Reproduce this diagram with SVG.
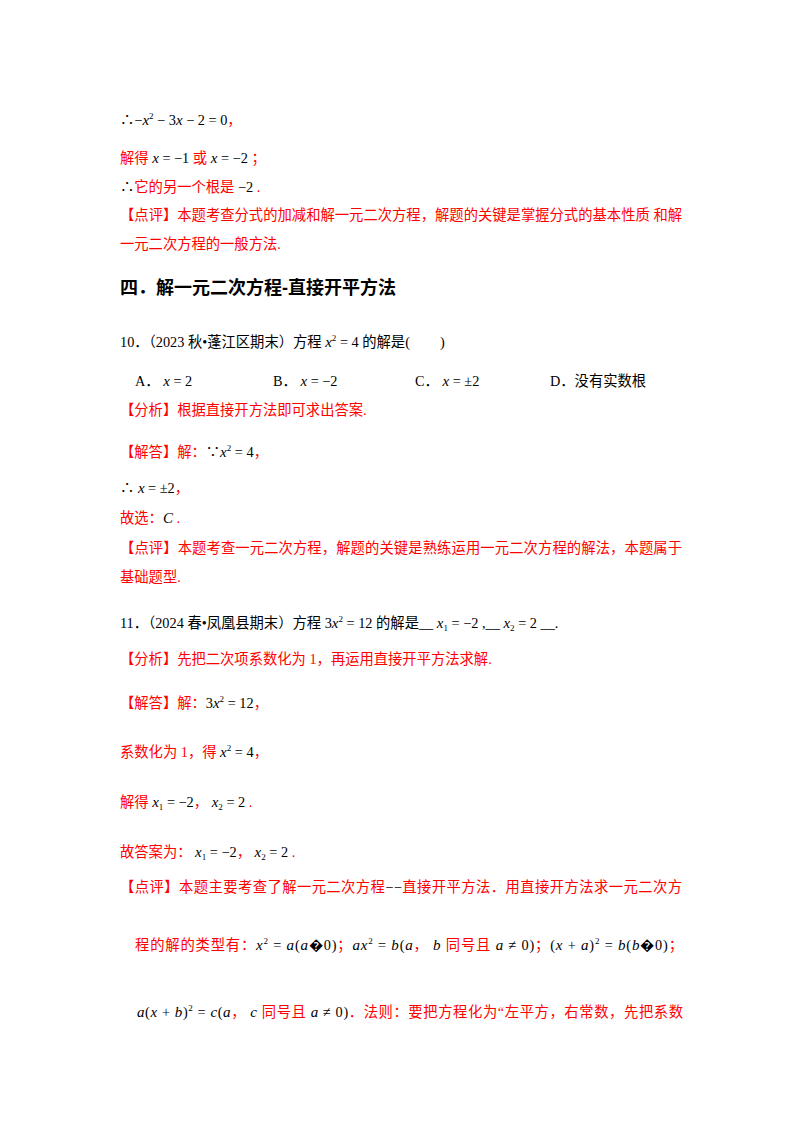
<svg xmlns="http://www.w3.org/2000/svg" width="800" height="1132" viewBox="0 0 800 1132">
<style>
text{font-family:"Liberation Serif","Noto Sans CJK SC",serif;font-size:14.3px;fill:#000}
.r{fill:#ff0000}
.m{font-family:"Liberation Serif",serif;font-style:italic;font-size:15px}
.n{font-family:"Liberation Serif",serif;font-style:normal}
.s{font-size:9px}
.h{font-family:"Liberation Sans","Noto Sans CJK SC",sans-serif;font-size:18px;font-weight:bold}
</style>
<rect width="800" height="1132" fill="#fff"/>
<g id="sol9">
<text x="120" y="125">∴<tspan class="n">−</tspan><tspan class="m">x</tspan><tspan class="s" dy="-6">2</tspan><tspan dy="6" class="n"> − 3</tspan><tspan class="m">x</tspan><tspan class="n"> − 2 = 0</tspan><tspan class="r">，</tspan></text>
<text x="120" y="163" class="r">解得 <tspan class="m" fill="#000">x</tspan><tspan fill="#000"> = −1 </tspan>或 <tspan class="m" fill="#000">x</tspan><tspan fill="#000"> = −2 </tspan>；</text>
<text x="120" y="192"><tspan>∴</tspan><tspan class="r">它的另一个根是 </tspan>−2<tspan class="r"> .</tspan></text>
<text x="120" y="220" class="r" textLength="562" lengthAdjust="spacing">【点评】本题考查分式的加减和解一元二次方程，解题的关键是掌握分式的基本性质 和解</text>
<text x="120" y="249" class="r">一元二次方程的一般方法.</text>
</g>
<g id="heading"><text x="120" y="294" class="h">四．解一元二次方程-直接开平方法</text></g>
<g id="q10">
<text x="120" y="347">10．（2023 秋•蓬江区期末）方程 <tspan class="m">x</tspan><tspan class="s" dy="-6">2</tspan><tspan dy="6"> = 4 的解是(</tspan><tspan dx="30">)</tspan></text>
<text x="135" y="386">A． <tspan class="m">x</tspan> = 2</text>
<text x="253" y="386" dx="20">B． <tspan class="m">x</tspan> = −2</text>
<text x="415" y="386">C． <tspan class="m">x</tspan> = ±2</text>
<text x="550" y="386">D．没有实数根</text>
<text x="120" y="415" class="r">【分析】根据直接开方法即可求出答案.</text>
<text x="120" y="457" class="r">【解答】解：<tspan fill="#000">∵<tspan class="m">x</tspan><tspan class="s" dy="-6">2</tspan><tspan dy="6"> = 4</tspan></tspan>，</text>
<text x="120" y="493">∴ <tspan class="m">x</tspan> = ±2<tspan class="r">，</tspan></text>
<text x="120" y="523" class="r">故选：<tspan class="m" fill="#000">C</tspan> .</text>
<text x="120" y="553" class="r" textLength="562" lengthAdjust="spacing">【点评】本题考查一元二次方程，解题的关键是熟练运用一元二次方程的解法，本题属于</text>
<text x="120" y="582" class="r">基础题型.</text>
</g>
<g id="q11">
<text x="120" y="628">11．（2024 春•凤凰县期末）方程 3<tspan class="m">x</tspan><tspan class="s" dy="-6">2</tspan><tspan dy="6"> = 12 的解是__ </tspan><tspan class="m">x</tspan><tspan class="s" dy="3">1</tspan><tspan dy="-3"> = −2 ,__ </tspan><tspan class="m">x</tspan><tspan class="s" dy="3">2</tspan><tspan dy="-3"> = 2 __.</tspan></text>
<text x="120" y="664" class="r">【分析】先把二次项系数化为 1，再运用直接开平方法求解.</text>
<text x="120" y="708" class="r">【解答】解：<tspan fill="#000">3<tspan class="m">x</tspan><tspan class="s" dy="-6">2</tspan><tspan dy="6"> = 12</tspan></tspan>，</text>
<text x="120" y="757" class="r">系数化为 1，得 <tspan fill="#000"><tspan class="m">x</tspan><tspan class="s" dy="-6">2</tspan><tspan dy="6"> = 4</tspan></tspan>，</text>
<text x="120" y="807" class="r">解得 <tspan fill="#000"><tspan class="m">x</tspan><tspan class="s" dy="3">1</tspan><tspan dy="-3"> = −2</tspan></tspan>， <tspan fill="#000"><tspan class="m">x</tspan><tspan class="s" dy="3">2</tspan><tspan dy="-3"> = 2</tspan></tspan> .</text>
<text x="120" y="857" class="r">故答案为： <tspan fill="#000"><tspan class="m">x</tspan><tspan class="s" dy="3">1</tspan><tspan dy="-3"> = −2</tspan></tspan>， <tspan fill="#000"><tspan class="m">x</tspan><tspan class="s" dy="3">2</tspan><tspan dy="-3"> = 2</tspan></tspan> .</text>
<text x="120" y="892" class="r" textLength="562" lengthAdjust="spacing">【点评】本题主要考查了解一元二次方程<tspan fill="#000">−−</tspan>直接开平方法．用直接开方法求一元二次方</text>
<text x="135" y="950" class="r" textLength="548" lengthAdjust="spacing">程的解的类型有：<tspan fill="#000"><tspan class="m">x</tspan><tspan class="s" dy="-6">2</tspan><tspan dy="6"> = </tspan><tspan class="m">a</tspan>(<tspan class="m">a</tspan>�0)</tspan>；<tspan fill="#000"><tspan class="m">ax</tspan><tspan class="s" dy="-6">2</tspan><tspan dy="6"> = </tspan><tspan class="m">b</tspan>(<tspan class="m">a</tspan></tspan>， <tspan class="m" fill="#000">b</tspan> 同号且 <tspan fill="#000"><tspan class="m">a</tspan> ≠ 0)</tspan>；<tspan fill="#000">(<tspan class="m">x</tspan> + <tspan class="m">a</tspan>)<tspan class="s" dy="-6">2</tspan><tspan dy="6"> = </tspan><tspan class="m">b</tspan>(<tspan class="m">b</tspan>�0)</tspan>；</text>
<text x="137" y="1017" class="r" textLength="546" lengthAdjust="spacing"><tspan fill="#000"><tspan class="m">a</tspan>(<tspan class="m">x</tspan> + <tspan class="m">b</tspan>)<tspan class="s" dy="-6">2</tspan><tspan dy="6"> = </tspan><tspan class="m">c</tspan>(<tspan class="m">a</tspan></tspan>， <tspan class="m" fill="#000">c</tspan> 同号且 <tspan fill="#000"><tspan class="m">a</tspan> ≠ 0)</tspan>．法则：要把方程化为“左平方，右常数，先把系数</text>
</g>
</svg>
